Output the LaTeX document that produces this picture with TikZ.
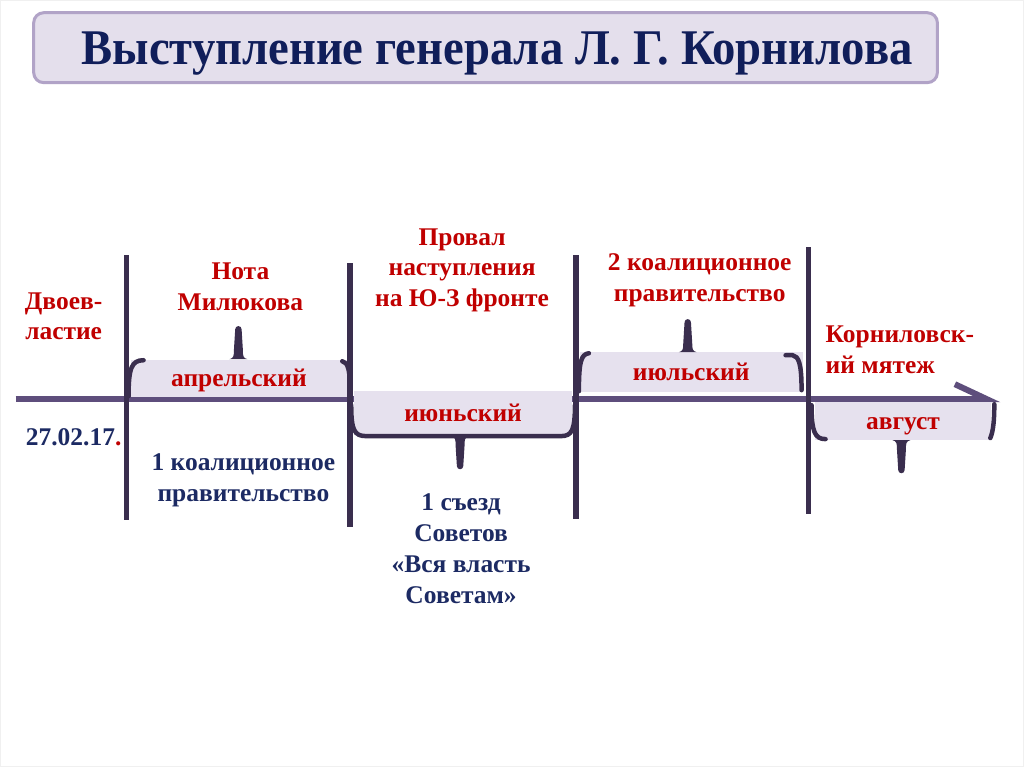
\documentclass[tikz,border=0pt]{standalone}
\usepackage{fontspec}
\setmainfont{Liberation Serif}
\newfontfamily\headfont[FakeStretch=0.935]{Liberation Serif}
\usetikzlibrary{arrows.meta}
\definecolor{navy}{HTML}{101E5A}
\definecolor{inkblue}{HTML}{1C2A63}
\definecolor{evtred}{HTML}{C00000}
\definecolor{plum}{HTML}{3A2E4E}
\definecolor{lineplum}{HTML}{5E4E7C}
\definecolor{lilac}{HTML}{E6E1EE}
\definecolor{titlebg}{HTML}{E4DFEC}
\definecolor{titlerim}{HTML}{B1A3C7}
\tikzset{
  every node/.style={font=\fontsize{25.5}{31}\selectfont\bfseries},
  titlebox/.style={draw=titlerim,line width=3pt,rounded corners=10pt,fill=titlebg,minimum width=905pt,minimum height=70pt},
  titletext/.style={font=\headfont\fontsize{50}{60}\selectfont\bfseries,text=navy},
  band/.style={fill=lilac,inner sep=0pt,text=evtred,text height=20pt,text depth=3pt},
  evt/.style={text=evtred,align=center,inner sep=0pt},
  fact/.style={text=inkblue,align=center,inner sep=0pt},
  divider/.style={draw=plum,line width=5.5pt},
  timeline/.style={draw=lineplum,line width=6pt,-{Straight Barb[harpoon,length=32pt,width=30pt]}},
  curl/.style={draw=plum,line width=4.5pt,line cap=round},
  spike/.pic={\fill[plum] (-9,0) .. controls (-4.5,1) and (-4.5,4) .. (-4.5,9) -- (-3.2,30) arc[start angle=180,end angle=0,radius=3.2] -- (4.5,9) .. controls (4.5,4) and (4.5,1) .. (9,0) -- cycle;}
}

\begin{document}
\begin{tikzpicture}[x=1pt,y=1pt]
  \draw[draw=black!6,line width=1.5pt,fill=white] (0,0) rectangle (1024,-767);
  \node[titlebox] (ttl) at (485.5,-47) {};
  \node[titletext] (ttltext) at (497,-53) {Выступление генерала Л. Г. Корнилова};

  % timeline and months
  \draw[timeline] (15,-399) -- (1001,-399);
  \node[band,minimum width=217pt,minimum height=37pt] (apr) at (238.5,-378) {апрельский};
  \node[band,minimum width=218pt,minimum height=44pt] (jun) at (463,-413) {июньский};
  \node[band,minimum width=223pt,minimum height=40pt] (jul) at (691.5,-372) {июльский};
  \node[band,minimum width=177pt,minimum height=38pt] (aug) at (903.5,-421) {август};

  % dividers
  \draw[divider] (126,-255) -- (126,-520);
  \draw[divider] (350,-263) -- (350,-527);
  \draw[divider] (576,-255) -- (576,-519);
  \draw[divider] (809,-247) -- (809,-514);

  % braces
  \draw[curl] (143,-360) .. controls (131,-360) and (128,-368) .. (128,-396);
  \draw[curl] (342,-361) .. controls (348,-362) and (350,-370) .. (350,-396);
  \draw[curl] (351,-405) .. controls (351,-430) and (354,-436) .. (366,-436) -- (561,-436) .. controls (572,-436) and (575,-430) .. (575,-405);
  \draw[curl] (589,-353) .. controls (581,-354) and (579,-362) .. (579,-391);
  \draw[curl] (786,-355) -- (793,-355) .. controls (799,-356) and (802,-363) .. (802,-390);
  \draw[curl] (812,-405) .. controls (812,-431) and (815,-439) .. (826,-439);
  \draw[curl] (995,-404) .. controls (995,-420) and (994,-431) .. (991,-438);
  \pic at (238,-359) {spike};
  \pic at (688,-352) {spike};
  \pic[rotate=180] at (460,-436) {spike};
  \pic[rotate=180] at (902,-440) {spike};

  % events
  \node[evt] (dvoev) at (63,-316) {Двоев-\\ластие};
  \node[evt] (nota) at (240,-286) {Нота\\Милюкова};
  \node[evt] (proval) at (462,-270) {Провал\\наступления\\на Ю-З фронте};
  \node[evt] (coal2) at (700,-280) {2 коалиционное\\правительство};
  \node[evt,align=left,anchor=west] (revolt) at (826,-350) {Корниловск-\\ий мятеж};
  % facts
  \node[fact] (date) at (73,-437) {27.02.17\textcolor{evtred}{.}};
  \node[fact] (coal1) at (243,-480) {1 коалиционное\\правительство};
  \node[fact] (sezd) at (461,-549) {1 съезд\\Советов\\«Вся власть\\Советам»};
\end{tikzpicture}
\end{document}
